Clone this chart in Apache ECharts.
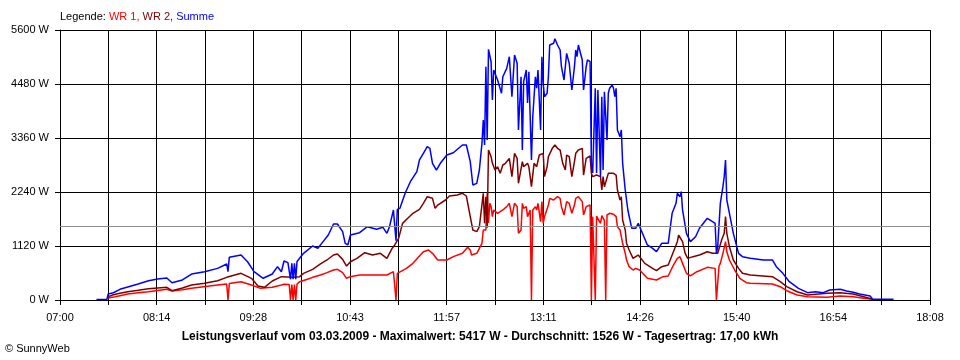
<!DOCTYPE html>
<html><head><meta charset="utf-8">
<script src="https://cdn.jsdelivr.net/npm/echarts@6/dist/echarts.min.js"></script>
<style>html,body{margin:0;padding:0;background:#fff}#c{width:960px;height:360px}</style>
</head><body><div id="c"></div>
<script>
const xTickLabels = ['07:00','08:14','09:28','10:43','11:57','13:11','14:26','15:40','16:54','18:08'];
const xStartMin = 420;   // 07:00
const xSpanMin = 668;    // 07:00 .. 18:08
const yMax = 5600, yStep = 1120;
const avgWatt = 1526;
const legendParts = ['Legende: ', 'WR 1, ', 'WR 2, ', 'Summe'];
const titleText = 'Leistungsverlauf vom 03.03.2009 - Maximalwert: 5417 W - Durchschnitt: 1526 W - Tagesertrag: 17,00 kWh';
const copyText = '\u00A9 SunnyWeb';

const wr1 = [["07:37",40],["07:41",60],["07:46",90],["07:52",124],["08:00",150],["08:08",172],["08:15",195],["08:22",222],["08:26",187],["08:34",215],["08:41",242],["09:01",311],["09:08",332],["09:09",0],["09:10",340],["09:19",380],["09:27",311],["09:34",242],["09:43",263],["09:50",311],["09:52",325],["09:56",320],["09:57",0],["09:58",320],["09:59",0],["10:00",320],["10:01",0],["10:02",330],["10:04",380],["10:10",429],["10:14",470],["10:20",518],["10:25",567],["10:30",622],["10:33",636],["10:37",567],["10:40",450],["10:43",484],["10:50",518],["11:00",518],["11:11",518],["11:16",587],["11:17",608],["11:18",0],["11:19",553],["11:26",656],["11:31",760],["11:36",912],["11:39",1002],["11:43",1037],["11:46",968],["11:50",830],["11:57",830],["12:02",899],["12:09",968],["12:13",1092],["12:15",1037],["12:16",933],["12:17",899],["12:20",968],["12:22",1072],["12:24",1176],["12:25",1452],["12:27",1452],["12:28",2213],["12:29",1600],["12:30",2005],["12:31",1936],["12:32",1729],["12:33",1867],["12:36",1798],["12:38",1832],["12:40",1867],["12:43",1936],["12:45",2005],["12:47",1729],["12:49",2005],["12:51",1936],["12:52",1383],["12:54",1452],["12:55",2005],["12:56",1901],["12:58",1936],["12:59",1729],["13:01",1867],["13:02",0],["13:03",1867],["13:05",1936],["13:06",1867],["13:07",2005],["13:09",1625],["13:10",2040],["13:11",1590],["13:12",1729],["13:15",1970],["13:16",2109],["13:19",2074],["13:22",2143],["13:24",2109],["13:25",1936],["13:27",1763],["13:29",2040],["13:31",2005],["13:33",1798],["13:35",1970],["13:36",2109],["13:38",2143],["13:41",2040],["13:42",1763],["13:44",1936],["13:45",1970],["13:47",1970],["13:48",0],["13:49",1729],["13:51",0],["13:52",1740],["13:53",1700],["13:55",1590],["13:56",1750],["13:57",1700],["13:58",1650],["13:59",0],["14:00",1763],["14:02",1798],["14:05",1780],["14:07",1729],["14:08",1521],["14:10",1452],["14:11",1480],["14:12",1176],["14:14",968],["14:15",830],["14:17",691],["14:20",622],["14:22",656],["14:25",622],["14:31",450],["14:38",415],["14:43",484],["14:47",498],["14:51",725],["14:54",864],["14:56",899],["14:58",760],["15:01",553],["15:04",498],["15:09",587],["15:17",677],["15:23",656],["15:24",0],["15:25",0],["15:26",700],["15:27",760],["15:29",968],["15:31",1210],["15:32",1000],["15:34",830],["15:38",622],["15:42",450],["15:47",359],["15:50",346],["16:07",332],["16:13",276],["16:18",193],["16:26",104],["16:34",69],["16:49",55],["16:59",83],["17:09",69],["17:17",35],["17:24",14]];

const wr2 = [["07:37",69],["07:41",110],["07:46",140],["07:52",172],["08:00",200],["08:08",235],["08:15",250],["08:22",263],["08:26",193],["08:34",250],["08:41",311],["08:51",346],["09:01",400],["09:08",470],["09:19",553],["09:27",450],["09:32",290],["09:37",263],["09:43",394],["09:50",484],["09:59",470],["10:04",484],["10:07",553],["10:14",636],["10:20",747],["10:25",830],["10:30",933],["10:33",954],["10:37",843],["10:40",705],["10:43",794],["10:48",864],["10:54",981],["11:00",933],["11:06",968],["11:11",864],["11:15",1072],["11:17",1141],["11:20",1279],["11:23",1590],["11:27",1694],["11:31",1798],["11:36",1881],["11:39",2005],["11:42",2143],["11:46",2109],["11:48",1901],["11:50",1970],["11:56",2074],["11:59",2157],["12:05",2178],["12:09",2213],["12:12",2157],["12:15",1729],["12:17",1452],["12:20",1417],["12:22",1521],["12:25",2213],["12:26",1590],["12:27",2143],["12:28",1500],["12:29",3111],["12:31",2973],["12:32",2835],["12:34",2696],["12:36",2765],["12:38",2627],["12:40",2800],["12:42",2835],["12:43",2869],["12:45",2938],["12:47",2558],["12:49",3042],["12:51",2938],["12:52",2420],["12:55",2869],["12:56",2765],["12:59",2835],["13:00",2765],["13:02",2350],["13:04",2835],["13:06",2765],["13:08",3007],["13:09",2973],["13:11",3042],["13:12",2558],["13:14",2765],["13:15",2973],["13:18",3146],["13:20",3215],["13:22",3146],["13:24",3111],["13:26",2835],["13:28",2696],["13:29",3007],["13:31",2973],["13:33",2558],["13:35",2869],["13:36",3042],["13:38",3111],["13:39",3076],["13:41",3146],["13:42",2592],["13:44",2938],["13:45",2973],["13:47",2987],["13:48",2627],["13:49",2558],["13:52",2592],["13:55",2558],["13:56",2281],["13:57",2558],["13:58",2350],["14:01",2627],["14:02",2661],["14:05",2627],["14:07",2592],["14:08",2281],["14:10",2074],["14:11",2143],["14:12",1659],["14:14",1452],["14:15",1176],["14:17",1037],["14:20",864],["14:22",899],["14:24",933],["14:25",933],["14:29",760],["14:35",656],["14:38",608],["14:42",691],["14:47",725],["14:51",1002],["14:54",1210],["14:55",1348],["14:58",1210],["15:00",968],["15:02",864],["15:06",899],["15:11",933],["15:17",1002],["15:21",968],["15:25",968],["15:28",1244],["15:30",1383],["15:31",1729],["15:32",1383],["15:34",1106],["15:37",830],["15:41",656],["15:44",553],["15:50",518],["16:07",484],["16:13",380],["16:18",276],["16:26",172],["16:34",104],["16:49",138],["16:59",152],["17:09",124],["17:17",69],["17:24",14]];

const summe = [["07:28",10],["07:36",10],["07:37",124],["07:41",150],["07:46",222],["07:52",270],["08:00",332],["08:08",400],["08:15",435],["08:22",456],["08:26",359],["08:34",415],["08:41",539],["08:51",587],["09:01",656],["09:08",747],["09:09",587],["09:10",885],["09:19",933],["09:24",794],["09:29",587],["09:36",450],["09:43",539],["09:47",691],["09:50",587],["09:52",808],["09:55",774],["09:56",760],["09:57",430],["09:58",760],["09:59",430],["10:00",760],["10:01",430],["10:02",800],["10:03",830],["10:07",968],["10:14",1120],["10:18",1072],["10:22",1210],["10:26",1348],["10:30",1576],["10:33",1576],["10:37",1417],["10:39",1176],["10:41",1141],["10:43",1348],["10:50",1396],["10:56",1521],["11:03",1466],["11:08",1507],["11:11",1383],["11:13",1521],["11:16",1867],["11:17",1832],["11:18",1230],["11:19",1880],["11:21",1901],["11:25",2213],["11:29",2454],["11:34",2661],["11:36",2904],["11:39",3042],["11:42",3180],["11:44",3146],["11:46",2835],["11:49",2696],["11:52",2835],["11:57",3007],["12:02",3055],["12:09",3215],["12:12",3215],["12:15",2869],["12:17",2385],["12:20",2420],["12:22",2696],["12:24",3256],["12:25",3733],["12:26",3215],["12:27",4839],["12:28",3318],["12:29",5200],["12:31",4942],["12:32",4148],["12:33",4770],["12:35",4631],["12:36",4563],["12:39",4287],["12:40",4631],["12:43",4805],["12:45",5046],["12:47",4217],["12:49",5081],["12:51",4909],["12:52",3526],["12:54",4631],["12:55",3111],["12:56",4528],["12:58",4770],["12:59",4087],["13:00",4735],["13:02",2904],["13:03",3802],["13:05",4631],["13:06",4391],["13:07",4770],["13:09",3526],["13:10",5046],["13:11",4494],["13:12",4217],["13:14",4287],["13:15",4631],["13:16",5289],["13:19",5324],["13:20",5417],["13:22",5289],["13:24",5185],["13:25",4839],["13:27",4563],["13:29",5116],["13:31",4909],["13:33",4356],["13:35",4839],["13:36",5185],["13:37",5046],["13:38",5289],["13:41",4978],["13:42",4356],["13:44",4839],["13:45",4978],["13:47",4943],["13:48",2835],["13:49",2634],["13:51",4391],["13:52",2634],["13:53",4356],["13:55",2558],["13:56",4217],["13:57",2696],["13:58",4321],["14:00",3318],["14:01",4287],["14:02",4391],["14:04",4459],["14:05",4391],["14:06",4217],["14:07",4391],["14:08",3526],["14:10",3387],["14:11",3526],["14:12",2835],["14:14",2281],["14:16",1867],["14:19",1487],["14:22",1487],["14:24",1590],["14:25",1556],["14:31",1141],["14:35",1072],["14:38",1002],["14:42",1176],["14:47",1176],["14:50",1798],["14:53",2005],["14:54",2213],["14:56",2143],["14:57",2247],["14:58",1867],["15:01",1383],["15:04",1210],["15:08",1313],["15:11",1487],["15:17",1694],["15:21",1625],["15:23",1590],["15:24",968],["15:25",1106],["15:27",2005],["15:29",2350],["15:30",2558],["15:31",2904],["15:32",2074],["15:34",1798],["15:37",1383],["15:41",968],["15:44",899],["15:50",864],["16:00",830],["16:07",830],["16:10",691],["16:15",553],["16:20",380],["16:27",242],["16:34",152],["16:40",172],["16:46",152],["16:51",207],["16:59",222],["17:04",187],["17:09",159],["17:14",124],["17:22",83],["17:24",14],["17:40",14]];

const FONT = "'Liberation Sans', Arial, sans-serif";
function toX(t) { const p = t.split(':').map(Number); return p[0] * 60 + p[1] - xStartMin; }
function prep(arr) { return arr.map(d => [toX(d[0]), d[1]]); }
const xStep = xSpanMin / 18;

const chart = echarts.init(document.getElementById('c'), null, { renderer: 'canvas' });
const lineSeries = (name, data, color) => ({
  name, type: 'line', data: prep(data), showSymbol: false, symbol: 'none',
  lineStyle: { color, width: 1.5 }, itemStyle: { color }, animation: false, silent: true
});
const sSumme = lineSeries('Summe', summe, '#0000ff');
const sWr1 = lineSeries('WR 1', wr1, '#ff0000');
sWr1.markLine = {
  silent: true, symbol: ['none', 'none'], animation: false,
  label: { show: false },
  lineStyle: { color: '#8c8c8c', type: 'solid', width: 1 },
  data: [{ yAxis: avgWatt }]
};
chart.setOption({
  backgroundColor: '#ffffff',
  animation: false,
  grid: { left: 60, right: 30, top: 30, bottom: 60, containLabel: false },
  xAxis: {
    type: 'value', min: 0, max: xSpanMin, interval: xStep,
    axisLine: { show: true, lineStyle: { color: '#000', width: 1 } },
    axisTick: { show: true, length: 5, lineStyle: { color: '#000', width: 1 } },
    splitLine: { show: true, lineStyle: { color: '#000', width: 1 } },
    axisLabel: {
      color: '#000', fontFamily: FONT, fontSize: 11, margin: 12, showMinLabel: true, showMaxLabel: true,
      formatter: v => { const i = Math.round(v / xStep); return i % 2 === 0 ? xTickLabels[i / 2] : ''; }
    }
  },
  yAxis: {
    type: 'value', min: 0, max: yMax, interval: yStep,
    axisLine: { show: true, lineStyle: { color: '#000', width: 1 } },
    axisTick: { show: true, length: 5, lineStyle: { color: '#000', width: 1 } },
    splitLine: { show: true, lineStyle: { color: '#000', width: 1 } },
    axisLabel: { color: '#000', fontFamily: FONT, fontSize: 11, margin: 11, formatter: v => v + ' W' }
  },
  series: [sWr1, lineSeries('WR 2', wr2, '#800000'), sSumme],
  graphic: [
    { type: 'text', left: 60, top: 11, silent: true,
      style: { text: '{k|' + legendParts[0] + '}{r|' + legendParts[1] + '}{d|' + legendParts[2] + '}{b|' + legendParts[3] + '}',
        font: '11px ' + FONT,
        rich: { k: { fill: '#000', font: '11px ' + FONT }, r: { fill: '#ff0000', font: '11px ' + FONT },
                d: { fill: '#800000', font: '11px ' + FONT }, b: { fill: '#0000ff', font: '11px ' + FONT } } } },
    { type: 'text', left: 'center', top: 331, silent: true,
      style: { text: titleText, fill: '#000', font: 'bold 12px ' + FONT } },
    { type: 'text', left: 5, top: 343, silent: true,
      style: { text: copyText, fill: '#000', font: '11px ' + FONT } }
  ]
});
</script>
</body></html>
